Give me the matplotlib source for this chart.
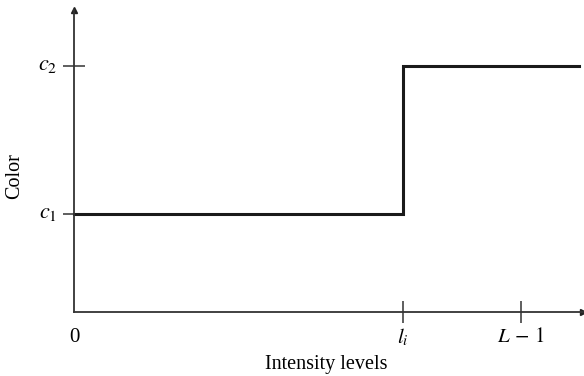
import matplotlib.pyplot as plt

plt.rcParams['font.family'] = ['Liberation Serif', 'DejaVu Serif']
plt.rcParams['mathtext.fontset'] = 'stix'

# data (arbitrary units)
level_x = [0.0, 0.646, 0.992]       # start, threshold l_i, end of the line
color_y = [0.325, 0.815]            # c1, c2
xtick_pos = [0.0, 0.646, 0.878]
xtick_lab = ['0', '$l_i$', r'$L\,-\,1$']
ytick_pos = [0.325, 0.815]
ytick_lab = ['$c_1$', '$c_2$']

fig = plt.figure(figsize=(5.84, 3.76), dpi=100)
ax = fig.add_axes([74 / 584, 64 / 376, 509 / 584, 302 / 376])
ax.set_xlim(0, 1)
ax.set_ylim(0, 1)

for s in ['top', 'right']:
    ax.spines[s].set_visible(False)
for s in ['left', 'bottom']:
    ax.spines[s].set_color('#333333')
    ax.spines[s].set_linewidth(1.3)

# arrow heads at the end of both axes
ax.plot(1, 0, '>', color='#222222', markersize=5, transform=ax.transAxes, clip_on=False)
ax.plot(0, 1, '^', color='#222222', markersize=5, transform=ax.transAxes, clip_on=False)

# step function
xs = [level_x[0], level_x[1], level_x[1], level_x[2]]
ys = [color_y[0], color_y[0], color_y[1], color_y[1]]
ax.plot(xs, ys, color='#1a1a1a', linewidth=2.2, solid_joinstyle='miter', clip_on=False)

ax.set_xticks(xtick_pos[1:])
ax.set_xticklabels([])
ax.set_yticks(ytick_pos)
ax.set_yticklabels([])
ax.tick_params(axis='both', direction='inout', length=16, width=1.1, color='#333333')

for x, lab in zip(xtick_pos, xtick_lab):
    ax.text(x, -0.085, lab, ha='center', va='center', fontsize=15)
for y, lab in zip(ytick_pos, ytick_lab):
    ax.text(-0.033, y, lab, ha='right', va='center', fontsize=16)

ax.text(0.495, -0.175, 'Intensity levels', ha='center', va='center', fontsize=14.5)
ax.text(-0.116, 0.45, 'Color', ha='center', va='center', rotation=90, fontsize=14.5)

fig.savefig('out.png', dpi=100)
